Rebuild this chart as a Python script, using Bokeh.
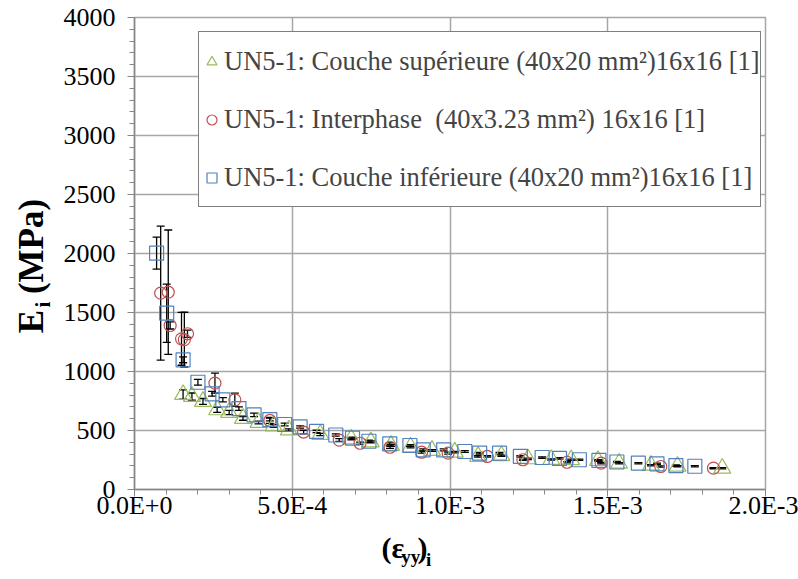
import math
from bokeh.plotting import figure
from bokeh.layouts import row, column
from bokeh.models import (ColumnDataSource, Whisker, TeeHead, Legend, LegendItem,
                          FixedTicker, Label)
from bokeh.embed import file_html
from bokeh.resources import INLINE

# ---------------- data ----------------
tri_x = [1.54e-4, 1.82e-4, 2.17e-4, 2.62e-4, 3.00e-4, 3.44e-4, 3.93e-4, 4.41e-4, 4.89e-4,
         5.89e-4, 6.87e-4, 7.49e-4, 8.13e-4, 8.75e-4, 9.43e-4, 1.015e-3, 1.089e-3, 1.163e-3,
         1.247e-3, 1.321e-3, 1.384e-3, 1.469e-3, 1.536e-3, 1.637e-3, 1.721e-3, 1.863e-3]
tri_y = [805, 788, 746, 675, 653, 602, 568, 538, 504, 466, 428, 403, 373, 360, 331, 316,
         280, 286, 260, 254, 252, 245, 222, 205, 197, 180]
tri_err = [40, 30, 25, 22, 18, 15, 12, 12, 10, 9, 8, 8, 8, 7, 7, 6, 6, 6, 6, 5, 5, 5, 5, 5, 5, 5]

cir_x = [8.3e-5, 1.07e-4, 1.13e-4, 1.49e-4, 1.58e-4, 1.68e-4, 2.55e-4, 3.18e-4, 4.29e-4,
         5.36e-4, 6.49e-4, 7.15e-4, 8.10e-4, 9.10e-4, 9.94e-4, 1.118e-3, 1.231e-3, 1.371e-3,
         1.479e-3, 1.668e-3, 1.835e-3]
cir_y = [1664, 1672, 1390, 1277, 1270, 1320, 901, 760, 585, 487, 419, 392, 358, 316, 308,
         280, 252, 231, 223, 195, 181]
cir_err = [568, 527, 30, 224, 232, 30, 85, 56, 25, 15, 12, 10, 10, 8, 8, 6, 6, 6, 6, 5, 5]

sq_x = [7.0e-5, 1.02e-4, 1.54e-4, 2.01e-4, 2.46e-4, 2.80e-4, 3.31e-4, 3.79e-4, 4.29e-4,
        4.76e-4, 5.25e-4, 5.77e-4, 6.38e-4, 6.91e-4, 7.43e-4, 8.09e-4, 8.73e-4, 9.15e-4,
        9.80e-4, 1.047e-3, 1.094e-3, 1.157e-3, 1.223e-3, 1.292e-3, 1.347e-3, 1.410e-3,
        1.472e-3, 1.529e-3, 1.597e-3, 1.656e-3, 1.716e-3, 1.776e-3]
sq_y = [2003, 1494, 1099, 909, 811, 760, 686, 633, 593, 551, 530, 492, 462, 435, 409, 387,
        373, 336, 336, 322, 308, 308, 280, 271, 263, 252, 246, 233, 223, 218, 203, 197]
sq_err = [136, 247, 25, 25, 20, 18, 15, 15, 12, 12, 10, 10, 10, 9, 9, 8, 8, 8, 8, 7, 7, 7,
          6, 6, 6, 6, 6, 5, 5, 5, 5, 5]

series_names = ["UN5-1: Couche supérieure (40x20 mm²)16x16 [1]",
                "UN5-1: Interphase  (40x3.23 mm²) 16x16 [1]",
                "UN5-1: Couche inférieure (40x20 mm²)16x16 [1]"]

x_ticks = [0.0, 0.0005, 0.001, 0.0015, 0.002]
x_tick_labels = ["0.0E+0", "5.0E-4", "1.0E-3", "1.5E-3", "2.0E-3"]
y_ticks = [0, 500, 1000, 1500, 2000, 2500, 3000, 3500, 4000]
x_minor = [i * 1e-4 for i in range(21)]
y_minor = [i * 100 for i in range(41)]

FONT = "Liberation Serif"
GRID = "#a6a6a6"

LEFT_W = 60      # width of the y-title strip
BOTTOM_H = 52    # height of the x-title strip
W, H = 798, 579

# ---------------- main plot ----------------
p = figure(width=W - LEFT_W, height=H - BOTTOM_H, x_range=(0, 0.002), y_range=(0, 4000),
           output_backend="svg", toolbar_location=None,
           min_border_left=132 - LEFT_W, min_border_right=33, min_border_top=17,
           min_border_bottom=(H - BOTTOM_H) - 489)
p.background_fill_color = "white"
p.border_fill_color = "white"
p.outline_line_color = GRID
p.outline_line_width = 1.5

p.xaxis.ticker = FixedTicker(ticks=x_ticks, minor_ticks=x_minor)
p.yaxis.ticker = FixedTicker(ticks=y_ticks, minor_ticks=y_minor)
p.xaxis.major_label_overrides = dict(zip(x_ticks, x_tick_labels))

for ax in (p.xaxis, p.yaxis):
    ax.axis_line_color = "#868686"
    ax.axis_line_width = 1.5
    ax.major_tick_line_color = "#868686"
    ax.minor_tick_line_color = "#868686"
    ax.major_tick_in = 0
    ax.major_tick_out = 7
    ax.minor_tick_in = 0
    ax.minor_tick_out = 5
    ax.major_label_text_font = FONT
    ax.major_label_text_font_size = "26px"
    ax.major_label_text_color = "black"
p.xaxis.major_label_standoff = -6
p.yaxis.major_label_standoff = 12

p.xgrid.grid_line_color = GRID
p.ygrid.grid_line_color = GRID
p.xgrid.grid_line_width = 1.5
p.ygrid.grid_line_width = 1.5

def add_series(xs, ys, errs, marker, color, size):
    src = ColumnDataSource(dict(x=xs, y=ys,
                                up=[a + b for a, b in zip(ys, errs)],
                                lo=[a - b for a, b in zip(ys, errs)]))
    w = Whisker(source=src, base="x", upper="up", lower="lo", dimension="height",
                line_color="black", line_width=1.3,
                upper_head=TeeHead(size=8, line_color="black", line_width=1.3),
                lower_head=TeeHead(size=8, line_color="black", line_width=1.3))
    p.add_layout(w)
    r = p.scatter("x", "y", source=src, marker=marker, size=size, fill_color=None,
                  line_color=color, line_width=1.2)
    return r

r_tri = add_series(tri_x, tri_y, tri_err, "triangle", "#9BBB59", 17)
r_cir = add_series(cir_x, cir_y, cir_err, "circle", "#C0504D", 12)
r_sq = add_series(sq_x, sq_y, sq_err, "square", "#4F81BD", 14)

legend = Legend(items=[LegendItem(label=series_names[0], renderers=[r_tri]),
                       LegendItem(label=series_names[1], renderers=[r_cir]),
                       LegendItem(label=series_names[2], renderers=[r_sq])],
                location=(64, 282), orientation="vertical",
                border_line_color="black", border_line_width=1,
                background_fill_color="white", background_fill_alpha=1,
                label_text_font=FONT, label_text_font_size="26.5px",
                padding=0, spacing=0, label_height=58, glyph_height=25, glyph_width=25,
                label_standoff=0, margin=0)
p.add_layout(legend, "center")

# ---------------- title strips (pixel-unit figures, no axes) ----------------
def strip(w, h):
    f = figure(width=w, height=h, x_range=(0, w), y_range=(0, h),
               x_axis_type=None, y_axis_type=None,
               output_backend="svg", toolbar_location=None,
               min_border=0, min_border_left=0, min_border_right=0,
               min_border_top=0, min_border_bottom=0)
    f.grid.visible = False
    f.outline_line_color = None
    f.background_fill_color = "white"
    f.border_fill_color = "white"
    return f

ly = strip(LEFT_W, H)
lx = strip(W - LEFT_W, BOTTOM_H)

def lab(f, px, py, ox, oy, text, size, angle=0.0, align="center"):
    # px, py: target pixel position; ox, oy: offset of the strip
    f.add_layout(Label(x=px - ox, y=f.height - (py - oy), text=text, angle=angle,
                       text_font=FONT, text_font_style="bold", text_font_size=size,
                       text_align=align, text_baseline="middle", text_color="black"))

# y title: E_i (MPa), rotated
lab(ly, 31, 321, 0, 0, "E", "35px", math.pi / 2)
lab(ly, 42, 304, 0, 0, "i", "21px", math.pi / 2)
lab(ly, 31, 246, 0, 0, "(MPa)", "35px", math.pi / 2)
# x title: (ε_yy)_i  (strip origin measured at about x = 88)
oy = H - BOTTOM_H
OX = LEFT_W + 29
lab(lx, 378, 547, OX, oy, "(ε", "30px", 0.0, "left")
lab(lx, 401, 556, OX, oy, "yy", "19px", 0.0, "left")
lab(lx, 420, 547, OX, oy, ")", "30px", 0.0, "left")
lab(lx, 430, 559, OX, oy, "i", "19px", 0.0, "left")

layout = row(ly, column(p, lx, spacing=0), spacing=0)

open("out.html", "w").write(file_html(layout, INLINE))
